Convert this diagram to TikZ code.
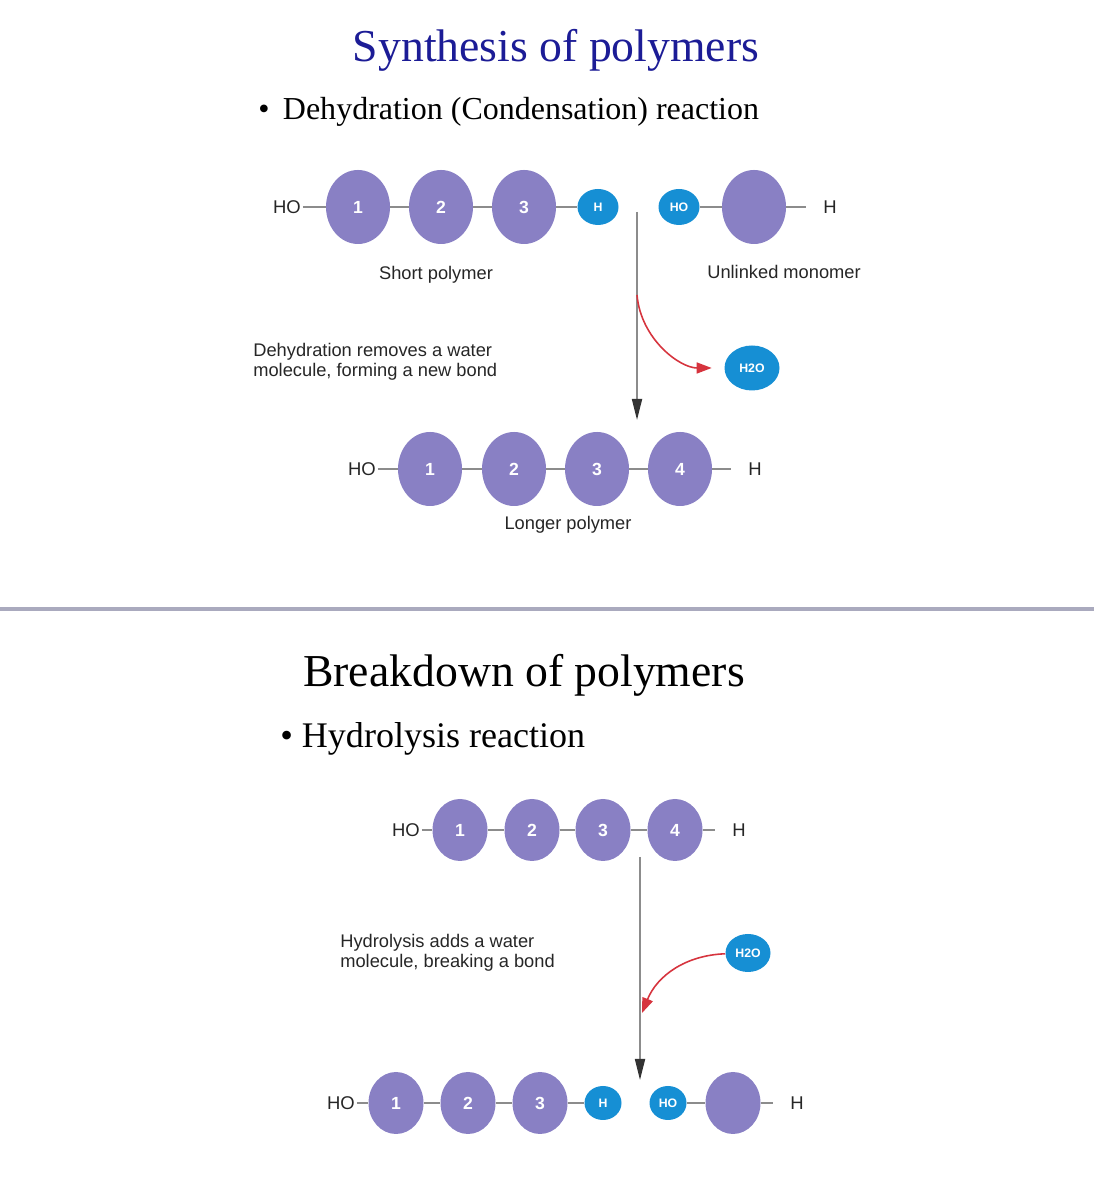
\documentclass[tikz,border=0pt]{standalone}
\usepackage{fontspec}
\setmainfont{Liberation Serif}
\setsansfont{Liberation Sans}
\usetikzlibrary{arrows.meta,shapes.geometric}

\definecolor{unitpurple}{RGB}{137,128,196}
\definecolor{capblue}{RGB}{22,143,212}
\definecolor{titleblue}{RGB}{28,28,150}
\definecolor{bondgray}{RGB}{140,140,140}
\definecolor{arrowred}{RGB}{214,52,62}
\definecolor{rulegray}{RGB}{170,170,190}

\begin{document}
\begin{tikzpicture}[x=1cm,y=1cm]
\tikzset{
  unit/.style={ellipse,fill=unitpurple,inner sep=0pt,minimum width=1.28cm,minimum height=1.48cm,
    text=white,font=\sffamily\bfseries\fontsize{10}{10}\selectfont},
  unitsm/.style={unit,minimum width=1.10cm,minimum height=1.24cm},
  capnode/.style={ellipse,fill=capblue,inner sep=0pt,minimum width=0.82cm,minimum height=0.72cm,
    text=white,font=\sffamily\bfseries\fontsize{7}{7}\selectfont},
  endtxt/.style={inner sep=1pt,text=black!85,font=\sffamily\fontsize{10.5}{10.5}\selectfont},
  caption/.style={inner sep=0pt,text=black!85,font=\sffamily\fontsize{10.4}{11.4}\selectfont},
  bond/.style={draw=bondgray,line width=1.1pt},
  tailbond/.style={bond,shorten >=0.3cm},
  flow/.style={draw=bondgray,line width=1pt,-{Triangle[length=0.42cm,width=0.2cm,color=black!80]}},
  water/.style={draw=arrowred,line width=0.9pt,-{Triangle[length=0.3cm,width=0.22cm]}}
}
\useasboundingbox (0,0) rectangle (21.88,24.00);

% dehydration
\node[text=titleblue,font=\fontsize{26}{26}\selectfont] (t_syn) at (11.12,23.00) {Synthesis of polymers};
\node[anchor=west,inner sep=0pt,font=\fontsize{18.2}{18.2}\selectfont] (t_dehyd) at (5.16,21.76)
  {\textbullet\hspace{0.42em}Dehydration (Condensation) reaction};

\node[endtxt] (n_HOa) at (5.74,19.86) {HO};
\node[unit] (n_a1) at (7.16,19.86) {1};
\node[unit] (n_a2) at (8.82,19.86) {2};
\node[unit] (n_a3) at (10.48,19.86) {3};
\node[capnode] (n_ha) at (11.96,19.86) {H};
\node[capnode] (n_hoa) at (13.58,19.86) {HO};
\node[unit] (n_ma) at (15.08,19.86) {};
\node[endtxt] (n_Ha) at (16.60,19.86) {H};
\draw[bond] (n_HOa) -- (n_a1);
\draw[bond] (n_a1) -- (n_a2);
\draw[bond] (n_a2) -- (n_a3);
\draw[bond] (n_a3) -- (n_ha);
\draw[bond] (n_hoa) -- (n_ma);
\draw[tailbond] (n_ma) -- (n_Ha);
\node[caption] (l_short) at (8.72,18.50) {Short polymer};
\node[caption] (l_unlinked) at (15.68,18.56) {Unlinked monomer};

\coordinate (c_topa) at (12.74,19.76);
\coordinate (c_bota) at (12.74,15.60);
\coordinate (c_splita) at (12.74,18.10);
\draw[flow] (c_topa) -- (c_bota);
\node[capnode,minimum width=1.10cm,minimum height=0.90cm] (n_wa) at (15.04,16.64) {H2O};
\draw[water,shorten >=0.25cm] (c_splita) to[out=-85,in=180] (n_wa);
\node[caption,anchor=west,align=left] (l_dehyd) at (5.06,16.76)
  {Dehydration removes a water\\molecule, forming a new bond};

\node[endtxt] (n_HOb) at (7.24,14.62) {HO};
\node[unit] (n_b1) at (8.60,14.62) {1};
\node[unit] (n_b2) at (10.28,14.62) {2};
\node[unit] (n_b3) at (11.94,14.62) {3};
\node[unit] (n_b4) at (13.60,14.62) {4};
\node[endtxt] (n_Hb) at (15.10,14.62) {H};
\draw[bond] (n_HOb) -- (n_b1);
\draw[bond] (n_b1) -- (n_b2);
\draw[bond] (n_b2) -- (n_b3);
\draw[bond] (n_b3) -- (n_b4);
\draw[tailbond] (n_b4) -- (n_Hb);
\node[caption] (l_longer) at (11.36,13.50) {Longer polymer};

\draw[draw=rulegray,line width=2.2pt] (0,11.82) -- (21.88,11.82);

% hydrolysis
\node[font=\fontsize{26}{26}\selectfont] (t_brk) at (10.48,10.50) {Breakdown of polymers};
\node[anchor=west,inner sep=0pt,font=\fontsize{20.5}{20.5}\selectfont] (t_hydro) at (5.60,9.22)
  {\textbullet\hspace{0.25em}Hydrolysis reaction};

\node[endtxt] (n_HOc) at (8.12,7.40) {HO};
\node[unitsm] (n_c1) at (9.20,7.40) {1};
\node[unitsm] (n_c2) at (10.64,7.40) {2};
\node[unitsm] (n_c3) at (12.06,7.40) {3};
\node[unitsm] (n_c4) at (13.50,7.40) {4};
\node[endtxt] (n_Hc) at (14.78,7.40) {H};
\draw[bond] (n_HOc) -- (n_c1);
\draw[bond] (n_c1) -- (n_c2);
\draw[bond] (n_c2) -- (n_c3);
\draw[bond] (n_c3) -- (n_c4);
\draw[tailbond] (n_c4) -- (n_Hc);

\coordinate (c_topc) at (12.80,6.86);
\coordinate (c_botc) at (12.80,2.40);
\coordinate (c_joinc) at (12.84,3.74);
\draw[flow] (c_topc) -- (c_botc);
\node[capnode,minimum width=0.90cm,minimum height=0.76cm] (n_wc) at (14.96,4.94) {H2O};
\draw[water] (n_wc) to[out=182,in=68] (c_joinc);
\node[caption,anchor=west,align=left] (l_hydro) at (6.80,4.94)
  {Hydrolysis adds a water\\molecule, breaking a bond};

\node[endtxt] (n_HOd) at (6.82,1.94) {HO};
\node[unitsm] (n_d1) at (7.92,1.94) {1};
\node[unitsm] (n_d2) at (9.36,1.94) {2};
\node[unitsm] (n_d3) at (10.80,1.94) {3};
\node[capnode,minimum width=0.74cm,minimum height=0.68cm] (n_hd) at (12.06,1.94) {H};
\node[capnode,minimum width=0.74cm,minimum height=0.68cm] (n_hod) at (13.36,1.94) {HO};
\node[unitsm] (n_md) at (14.66,1.94) {};
\node[endtxt] (n_Hd) at (15.94,1.94) {H};
\draw[bond] (n_HOd) -- (n_d1);
\draw[bond] (n_d1) -- (n_d2);
\draw[bond] (n_d2) -- (n_d3);
\draw[bond] (n_d3) -- (n_hd);
\draw[bond] (n_hod) -- (n_md);
\draw[tailbond] (n_md) -- (n_Hd);
\end{tikzpicture}
\end{document}
